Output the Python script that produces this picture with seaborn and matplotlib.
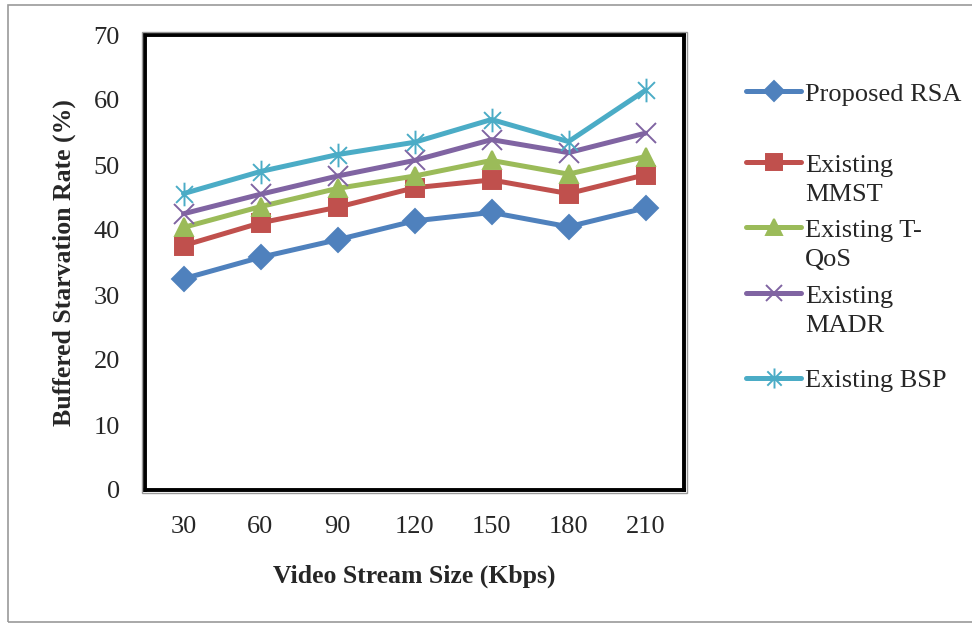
import numpy as np
import pandas as pd
import matplotlib
matplotlib.use("Agg")
import matplotlib.pyplot as plt
from matplotlib.path import Path
from matplotlib.patches import Rectangle
import seaborn as sns

# ------------------- Data -------------------
stream_size = [30, 60, 90, 120, 150, 180, 210]
proposed_rsa = [32.5, 35.8, 38.5, 41.4, 42.7, 40.5, 43.4]
existing_mmst = [37.6, 41.1, 43.5, 46.5, 47.7, 45.6, 48.5]
existing_tqos = [40.4, 43.6, 46.4, 48.3, 50.7, 48.6, 51.3]
existing_madr = [42.5, 45.5, 48.3, 50.7, 53.9, 51.9, 54.9]
existing_bsp = [45.6, 49.0, 51.6, 53.5, 57.0, 53.6, 61.5]

labels = ["Proposed RSA", "Existing MMST", "Existing T-QoS", "Existing MADR", "Existing BSP"]
# legend text as it wraps in the original chart
legend_lines = [["Proposed RSA"], ["Existing", "MMST"], ["Existing T-", "QoS"],
                ["Existing", "MADR"], ["Existing BSP"]]
colors = ["#4F81BD", "#C0504D", "#9BBB59", "#8064A2", "#4BACC6"]

# Excel style asterisk: an x with a vertical bar
asterisk = Path(
    [(-0.5, -0.5), (0.5, 0.5), (-0.5, 0.5), (0.5, -0.5), (0, -0.7), (0, 0.7)],
    [Path.MOVETO, Path.LINETO, Path.MOVETO, Path.LINETO, Path.MOVETO, Path.LINETO],
)
markers = ["D", "s", "^", "x", asterisk]
msizes = [12, 13, 13, 14, 17]

series = [proposed_rsa, existing_mmst, existing_tqos, existing_madr, existing_bsp]

# ------------------- Plot -------------------
sns.set_style("white")
plt.rcParams["font.family"] = ["Liberation Serif", "DejaVu Serif"]

fig = plt.figure(figsize=(9.72, 6.26), dpi=100)
ax = fig.add_axes([145 / 972, 1 - 490 / 626, 539 / 972, 455 / 626])

for vals, lab, col, mk, ms in zip(series, labels, colors, markers, msizes):
    df = pd.DataFrame({"size": stream_size, "rate": vals})
    sns.lineplot(data=df, x="size", y="rate", ax=ax, color=col, marker=mk,
                 markersize=ms, linewidth=3.6, markeredgecolor=col,
                 markeredgewidth=1.4, label=lab)

ax.set_xlim(15, 225)
ax.set_ylim(0, 70)
ax.set_xticks(stream_size)
ax.set_yticks(range(0, 71, 10))
ax.tick_params(axis="both", length=0, labelsize=19)
ax.tick_params(axis="x", pad=19)
ax.tick_params(axis="y", pad=18)
ax.set_xlabel("Video Stream Size (Kbps)", fontsize=18.5, fontweight="bold", labelpad=19)
ax.set_ylabel("Buffered Starvation Rate (%)", fontsize=18.5, fontweight="bold", labelpad=13)

for sp in ax.spines.values():
    sp.set_color("black")
    sp.set_linewidth(2.8)

# thin gray line just outside the plot frame
fig.patches.append(Rectangle((142 / 972, 1 - 493 / 626), 545 / 972, 461 / 626,
                             transform=fig.transFigure, fill=False,
                             edgecolor="#9a9a9a", linewidth=1))
# outer chart border
fig.patches.append(Rectangle((8 / 972, 4 / 626), 980 / 972, 617 / 626,
                             transform=fig.transFigure, fill=False,
                             edgecolor="#9a9a9a", linewidth=1.2))

# ------------------- Legend (one entry per row, Excel-like spacing) -------------------
handles, _ = ax.get_legend_handles_labels()
ax.get_legend().remove()
row_y = [94, 165, 230, 296, 380]
for h, lines, y in zip(handles, legend_lines, row_y):
    fig.legend(handles=[h], labels=[lines[0]], loc="center left",
               bbox_to_anchor=(746 / 972, 1 - y / 626), bbox_transform=fig.transFigure,
               frameon=False, fontsize=19, handlelength=2.1, handletextpad=0.15,
               borderpad=0, borderaxespad=0, markerscale=0.85)
    if len(lines) > 1:
        fig.text(805 / 972, 1 - (y + 30) / 626, lines[1], fontsize=19,
                 ha="left", va="center")

plt.savefig("out.png", dpi=100)
plt.close()
